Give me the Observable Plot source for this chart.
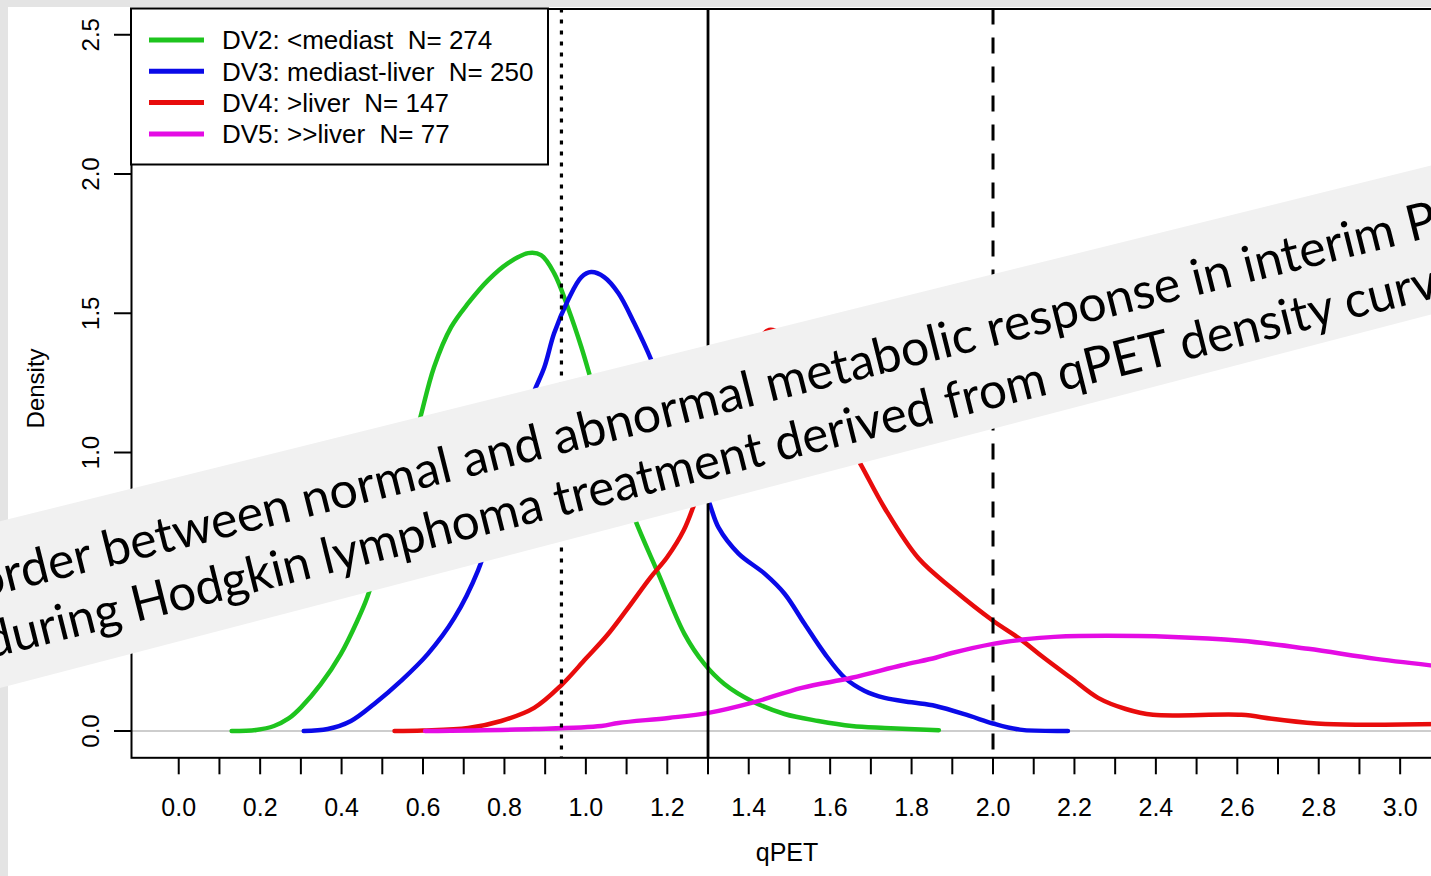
<!DOCTYPE html>
<html>
<head>
<meta charset="utf-8">
<script src="https://cdn.jsdelivr.net/npm/d3@7"></script>
<script src="https://cdn.jsdelivr.net/npm/@observablehq/plot@0.6"></script>
<style>
  html, body { margin: 0; padding: 0; overflow: hidden; background: #e4e4e4; width: 1431px; height: 876px; }
  #panel { position: absolute; left: 8px; top: 7px; width: 1434px; height: 869px; background: #ffffff; }
  #overlay { position: absolute; left: 0; top: 0; pointer-events: none; }
</style>
</head>
<body>
<div id="panel"></div>
<svg id="overlay" width="1431" height="876"></svg>
<script>
// ---------------- data ----------------
const seriesNames = ["DV2: <mediast", "DV3: mediast-liver", "DV4: >liver", "DV5: >>liver"];
const seriesN = [274, 250, 147, 77];
const seriesColors = ["#1ec41e", "#0a0ae8", "#e80c0c", "#e40ce4"];

const dv2X = [0.13, 0.19, 0.234, 0.27, 0.30, 0.349, 0.398, 0.439, 0.463, 0.50, 0.55, 0.59, 0.627, 0.669, 0.711, 0.76, 0.809, 0.858, 0.89, 0.922, 0.956, 0.989, 1.013, 1.06, 1.119, 1.178, 1.242, 1.291, 1.34, 1.407, 1.488, 1.571, 1.653, 1.734, 1.867];
const dv2Y = [0.0, 0.004, 0.018, 0.045, 0.084, 0.168, 0.276, 0.397, 0.48, 0.66, 0.90, 1.107, 1.306, 1.45, 1.536, 1.619, 1.68, 1.716, 1.709, 1.644, 1.52, 1.378, 1.259, 1.02, 0.766, 0.565, 0.349, 0.241, 0.169, 0.108, 0.061, 0.036, 0.018, 0.011, 0.003];

const dv3X = [0.307, 0.366, 0.423, 0.48, 0.546, 0.612, 0.677, 0.735, 0.78, 0.83, 0.868, 0.898, 0.922, 0.956, 0.989, 1.013, 1.045, 1.08, 1.119, 1.161, 1.2, 1.25, 1.301, 1.326, 1.375, 1.439, 1.488, 1.537, 1.587, 1.636, 1.685, 1.734, 1.8, 1.859, 1.943, 2.0, 2.066, 2.184];
const dv3Y = [0.0, 0.007, 0.036, 0.097, 0.18, 0.277, 0.406, 0.576, 0.78, 1.0, 1.2, 1.306, 1.428, 1.547, 1.63, 1.648, 1.63, 1.572, 1.464, 1.331, 1.18, 1.0, 0.827, 0.73, 0.637, 0.565, 0.493, 0.385, 0.277, 0.191, 0.144, 0.119, 0.103, 0.09, 0.054, 0.027, 0.005, 0.0];

const dv4X = [0.53, 0.6, 0.711, 0.792, 0.873, 0.94, 1.0, 1.05, 1.10, 1.158, 1.2, 1.24, 1.265, 1.30, 1.35, 1.40, 1.45, 1.50, 1.55, 1.60, 1.674, 1.734, 1.817, 1.901, 2.0, 2.066, 2.125, 2.191, 2.258, 2.326, 2.393, 2.61, 2.69, 2.816, 3.1];
const dv4Y = [0.0, 0.002, 0.011, 0.036, 0.083, 0.165, 0.26, 0.34, 0.435, 0.55, 0.625, 0.72, 0.81, 0.96, 1.15, 1.33, 1.44, 1.40, 1.29, 1.15, 0.96, 0.80, 0.62, 0.51, 0.396, 0.331, 0.263, 0.191, 0.119, 0.079, 0.058, 0.058, 0.043, 0.025, 0.025];

const dv5X = [0.605, 0.873, 1.038, 1.08, 1.203, 1.301, 1.407, 1.53, 1.653, 1.776, 1.859, 1.899, 2.0, 2.066, 2.15, 2.442, 2.61, 2.774, 2.941, 3.1];
const dv5Y = [0.0, 0.007, 0.018, 0.029, 0.047, 0.065, 0.101, 0.155, 0.191, 0.236, 0.263, 0.28, 0.313, 0.327, 0.338, 0.338, 0.324, 0.295, 0.259, 0.232];

const cutoffs = [0.94, 1.3, 2.0];
const xTicks = d3.range(0, 32).map(i => i / 10);
const yTicks = [0, 0.5, 1.0, 1.5, 2.0, 2.5];
const xLabel = "qPET";
const yLabel = "Density";
const bannerLines = [
  "Border between normal and abnormal metabolic response in interim PET",
  "during Hodgkin lymphoma treatment derived from qPET density curves"
];

// ---------------- build ----------------
const seriesX = [dv2X, dv3X, dv4X, dv5X];
const seriesY = [dv2Y, dv3Y, dv4Y, dv5Y];
const rows = [];
seriesNames.forEach((name, i) => {
  seriesX[i].forEach((x, j) => rows.push({s: name, x, y: seriesY[i][j]}));
});

const font = "'Liberation Sans', Arial, Helvetica, sans-serif";

const chart = Plot.plot({
  width: 1434,
  height: 869,
  marginLeft: 123,
  marginRight: 0,
  marginTop: 1.5,
  marginBottom: 118.7,
  style: {fontFamily: font, fontSize: "25px", background: "white", color: "black", overflow: "visible"},
  x: {domain: [-0.116, 3.104]},
  y: {domain: [-0.0962, 2.5925]},
  color: {domain: seriesNames, range: seriesColors},
  marks: [
    Plot.ruleY([0], {stroke: "#bdbdbd", strokeWidth: 1.6}),
    Plot.line(rows, {x: "x", y: "y", z: "s", stroke: "s", strokeWidth: 4.5, curve: "catmull-rom"}),
    Plot.ruleX([cutoffs[0]], {stroke: "black", strokeWidth: 3.2, strokeDasharray: "4,7"}),
    Plot.ruleX([cutoffs[1]], {stroke: "black", strokeWidth: 2.8}),
    Plot.ruleX([cutoffs[2]], {stroke: "black", strokeWidth: 3, strokeDasharray: "16,13"}),
    Plot.frame({stroke: "black", strokeWidth: 2}),
    Plot.axisY({ticks: yTicks, tickSize: 17, tickPadding: 16, tickRotate: -90, tickFormat: d3.format(".1f"),
                label: null, strokeWidth: 2, fontSize: 24}),
    Plot.axisX({ticks: xTicks, tickSize: 17, tickPadding: 23,
                tickFormat: d => (Math.round(d * 10) % 2 === 0 ? d3.format(".1f")(d) : ""),
                label: xLabel, labelAnchor: "center", labelOffset: 102.7, labelArrow: "none",
                strokeWidth: 2, fontSize: 25}),
    Plot.text([yLabel], {frameAnchor: "left", textAnchor: "middle", rotate: -90, lineAnchor: "middle",
                         dx: -94.7, dy: 5, fontSize: 24, text: d => d})
  ]
});
document.getElementById("panel").appendChild(chart);

// ---------------- legend + banner overlay ----------------
const ov = d3.select("#overlay");
const leg = ov.append("g");
leg.append("rect").attr("x", 131).attr("y", 8.5).attr("width", 417).attr("height", 156)
   .attr("fill", "white").attr("stroke", "black").attr("stroke-width", 2);
seriesNames.forEach((name, i) => {
  const cy = 40 + i * 31.3;
  leg.append("line").attr("x1", 149).attr("x2", 204).attr("y1", cy).attr("y2", cy)
     .attr("stroke", seriesColors[i]).attr("stroke-width", 5);
  leg.append("text").attr("x", 222).attr("y", cy + 9.3)
     .attr("font-family", font).attr("font-size", 26).attr("fill", "black")
     .style("white-space", "pre")
     .text(`${name}  N= ${seriesN[i]}`);
});

// banner strip (slightly wedge-shaped, as in the photographed slide)
ov.append("polygon")
  .attr("points", [[-10, 523.8], [1441, 162.9], [1441, 311.9], [-10, 690.6]].map(p => p.join(",")).join(" "))
  .attr("fill", "#f1f1f1");
const ban = ov.append("g").attr("transform", "translate(0,593.8) rotate(-14)");
const lineLen = [1595, 1543];
bannerLines.forEach((t, i) => {
  ban.append("text").attr("x", 745).attr("y", i * 60.2)
     .attr("text-anchor", "middle")
     .attr("font-family", "Lato, 'Open Sans', sans-serif").attr("font-size", 50)
     .attr("textLength", lineLen[i]).attr("lengthAdjust", "spacingAndGlyphs")
     .attr("fill", "black")
     .text(t);
});
</script>
</body>
</html>
